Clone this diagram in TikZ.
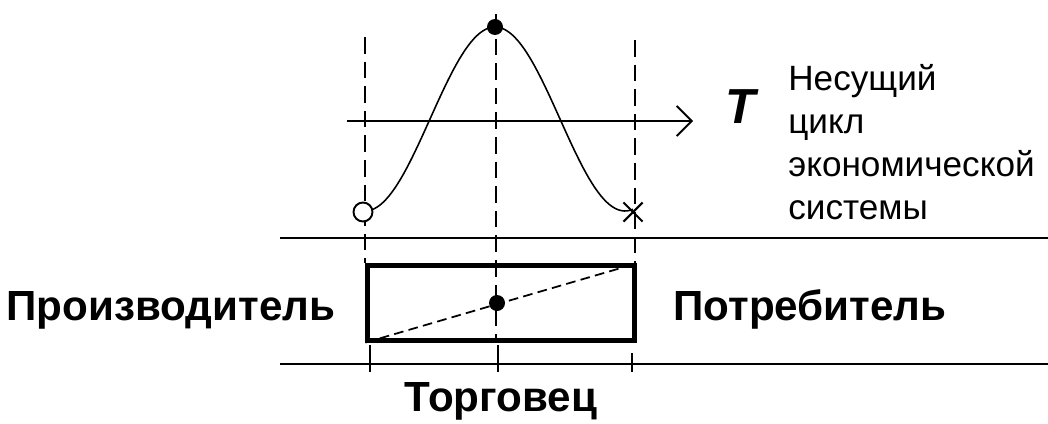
\documentclass[tikz,border=0pt]{standalone}
\usepackage{fontspec}
\setmainfont{Liberation Sans}
\usetikzlibrary{arrows.meta, positioning, shapes.misc}

\begin{document}
\begin{tikzpicture}[x=0.02cm, y=-0.02cm,
  every node/.style={font=\fontsize{20}{24.5}\selectfont},
  thinline/.style={line width=1.1pt},
  guide/.style={line width=1.1pt, dash pattern=on 9.5pt off 4.5pt},
  frame/.style={draw, line width=2.6pt, minimum width=5.33cm,
    minimum height=1.49cm, inner sep=0pt},
  dot/.style={circle, fill, inner sep=0pt, minimum size=0.32cm},
  role/.style={font=\fontsize{24}{28}\selectfont\bfseries, anchor=base}]
  \useasboundingbox (0,0) rectangle (1048,423);
  % market box with its two rules
  \coordinate (hl) at (280,238);
  \coordinate (hr) at (1048,238);
  \coordinate (bl) at (280,364);
  \coordinate (br) at (1048,364);
  \draw[thinline] (hl) -- (hr);
  \draw[thinline] (bl) -- (br);
  \node[frame] (box) at (501,303) {};
  \draw[line width=1pt, dash pattern=on 5.5pt off 3pt] (box.south west) -- (box.north east);
  % guides of the cycle
  \coordinate (Ltop) at (365,37);
  \coordinate (Mtop) at (496,14);
  \coordinate (Rtop) at (635,40);
  \draw[guide] (Ltop) -- (Ltop |- box.north);
  \draw[guide] (Mtop) -- (Mtop |- box.south);
  \draw[guide] (Rtop) -- (Rtop |- box.north);
  \foreach \px/\py in {370/345, 498/345, 632/353}
    \draw[thinline] (\px,\py) -- (\px,372);
  % time axis and the wave
  \coordinate (ax0) at (347,121);
  \coordinate (ax1) at (693,121);
  \draw[thinline, -{Straight Barb[length=0.3cm, width=0.6cm]}] (ax0) -- (ax1);
  \draw[line width=0.9pt] plot[variable=\t, domain=-124:138, samples=90]
    ({495+\t},{119-92*cos(1.3846*\t)});
  \node[circle, draw, fill=white, line width=1.1pt, inner sep=0pt,
    minimum size=0.38cm] (birth) at (363,212) {};
  \node[dot] (peak) at (495,27) {};
  \node[cross out, draw, line width=1.2pt, inner sep=0pt,
    minimum size=0.34cm] (death) at (633,212) {};
  \node[dot] (mid) at (497,303) {};
  % labels
  \node[font=\fontsize{28}{30}\selectfont\bfseries\itshape, anchor=base] (T) at (741,123) {T};
  \node[anchor=west, align=left, inner sep=0pt] (cycle) at (788,142)
    {Несущий\\цикл\\экономической\\системы};
  \node[role] (prod) at (171,320) {Производитель};
  \node[role] (cons) at (810,320) {Потребитель};
  \node[role] (trader) at (501,411) {Торговец};
\end{tikzpicture}
\end{document}
